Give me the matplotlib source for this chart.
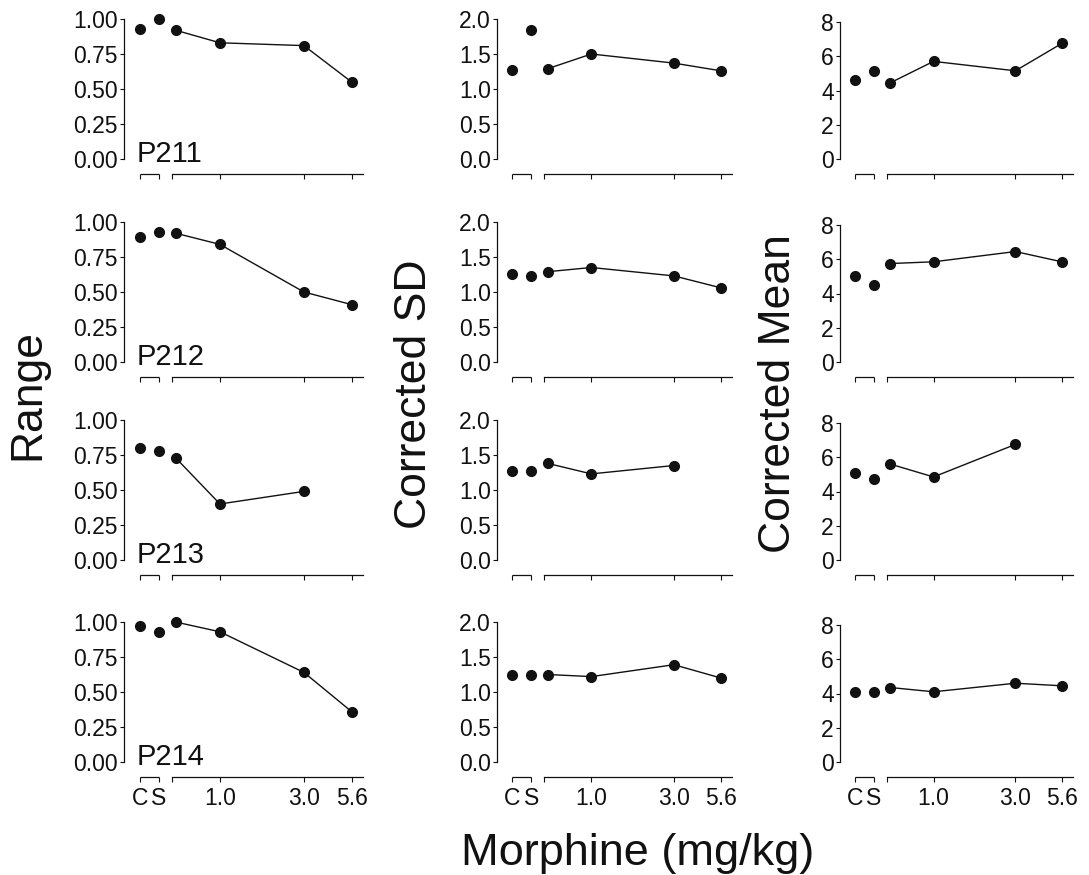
import numpy as np
import matplotlib
matplotlib.use('Agg')
import matplotlib.pyplot as plt
from matplotlib.ticker import NullLocator, FixedLocator, FixedFormatter
from matplotlib.transforms import ScaledTranslation

plt.rcParams['font.family'] = ['Liberation Sans', 'DejaVu Sans']

nan = np.nan

subjects = ['P211', 'P212', 'P213', 'P214']
ctrl_labels = ['C', 'S']
ctrl_pos = [0.35, 0.45]
doses = [0.56, 1.0, 3.0, 5.6]
dose_labels = ['', '1.0', '3.0', '5.6']

# Range
range_cs = [[0.93, 1.00], [0.89, 0.93], [0.80, 0.78], [0.97, 0.93]]
range_dose = [[0.92, 0.83, 0.81, 0.55],
              [0.92, 0.84, 0.50, 0.41],
              [0.73, 0.40, 0.49, nan],
              [1.00, 0.93, 0.64, 0.36]]

# Corrected SD
sd_cs = [[1.27, 1.85], [1.26, 1.23], [1.27, 1.27], [1.25, 1.25]]
sd_dose = [[1.29, 1.50, 1.37, 1.26],
           [1.29, 1.35, 1.23, 1.06],
           [1.38, 1.23, 1.35, nan],
           [1.25, 1.22, 1.39, 1.20]]

# Corrected Mean
mean_cs = [[4.60, 5.15], [5.00, 4.50], [5.10, 4.75], [4.10, 4.10]]
mean_dose = [[4.45, 5.70, 5.15, 6.75],
             [5.75, 5.85, 6.45, 5.85],
             [5.60, 4.85, 6.75, nan],
             [4.35, 4.10, 4.60, 4.45]]

columns = [
    ('Range', range_cs, range_dose, [0, 0.25, 0.5, 0.75, 1.0], '{:.2f}'),
    ('Corrected SD', sd_cs, sd_dose, [0, 0.5, 1.0, 1.5, 2.0], '{:.1f}'),
    ('Corrected Mean', mean_cs, mean_dose, [0, 2, 4, 6, 8], '{:.0f}'),
]

W, H = 1089, 875
fig = plt.figure(figsize=(W / 100, H / 100), dpi=100)

col_left = [124, 497, 840]
col_width = [239, 235, 233]
col_height = [140, 140, 137]
row_bottom = [159, 362, 560, 762]
ylab_x = [28, 415, 779]

ink = '#111111'
offset_pt = 10.8

for c, (ylab, cs_vals, dose_vals, yticks, fmt) in enumerate(columns):
    for r in range(4):
        ax = fig.add_axes([col_left[c] / W, 1 - row_bottom[r] / H,
                           col_width[c] / W, col_height[c] / H])
        ax.set_xscale('log')
        ax.set_xlim(0.285, 6.5)
        ax.set_ylim(0, yticks[-1])

        ax.plot(ctrl_pos, cs_vals[r], 'o', ms=7, color=ink, clip_on=False, zorder=3)
        ax.plot(doses, dose_vals[r], '-o', ms=7, lw=1.0, color=ink, clip_on=False, zorder=3)

        for s in ['top', 'right']:
            ax.spines[s].set_visible(False)
        ax.spines['left'].set_linewidth(0.9)
        ax.spines['left'].set_color(ink)
        ax.spines['bottom'].set_position(('outward', offset_pt))
        ax.spines['bottom'].set_bounds(0.532, 6.5)
        ax.spines['bottom'].set_linewidth(0.9)
        ax.spines['bottom'].set_color(ink)

        # short C-S segment of the broken x axis
        trans = ax.get_xaxis_transform() + ScaledTranslation(0, -offset_pt / 72, fig.dpi_scale_trans)
        ax.plot(ctrl_pos, [0, 0], color=ink, lw=0.9, transform=trans, clip_on=False,
                solid_capstyle='butt')

        ax.xaxis.set_minor_locator(NullLocator())
        ax.xaxis.set_major_locator(FixedLocator(ctrl_pos + [0.532] + doses[1:]))
        if r == 3:
            ax.xaxis.set_major_formatter(FixedFormatter(ctrl_labels + dose_labels))
        else:
            ax.xaxis.set_major_formatter(FixedFormatter([''] * 6))
        ax.tick_params(axis='x', direction='out', length=3.5, width=0.8, pad=3.5,
                       labelsize=16.5, colors=ink)

        ax.set_yticks(yticks)
        ax.set_yticklabels([fmt.format(v) for v in yticks])
        ax.tick_params(axis='y', direction='out', length=3, width=0.8, pad=1.5,
                       labelsize=16.5, colors=ink)

        if c == 0:
            ax.text(0.053, -0.02, subjects[r], transform=ax.transAxes, fontsize=21,
                    va='baseline', ha='left', color=ink)

    fig.text(ylab_x[c] / W, 1 - 394 / H, ylab, rotation=90, va='center', ha='center',
             fontsize=32, color=ink)

fig.text(638 / W, 1 - 865 / H, 'Morphine (mg/kg)', ha='center', va='baseline',
         fontsize=32.5, color=ink)

fig.savefig('out.png', dpi=100)
